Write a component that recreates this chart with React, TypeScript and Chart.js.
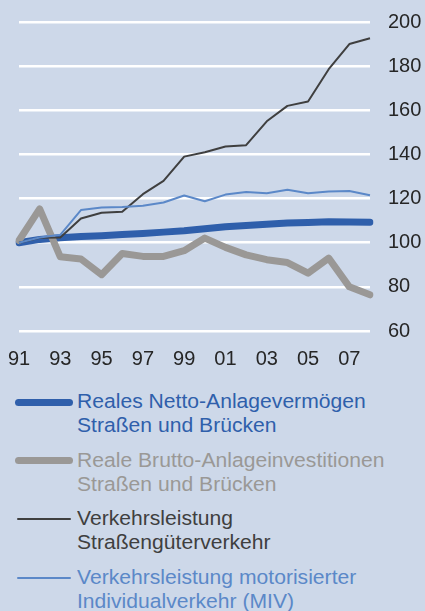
import React, { useEffect, useRef } from "react";
import { Chart, registerables } from "chart.js";

Chart.register(...registerables);

const years = ["91","92","93","94","95","96","97","98","99","00","01","02","03","04","05","06","07","08"];
const shownTicks = ["91","93","95","97","99","01","03","05","07"];

const nettoLabel = ["Reales Netto-Anlagevermögen", "Straßen und Brücken"];
const bruttoLabel = ["Reale Brutto-Anlageinvestitionen", "Straßen und Brücken"];
const gueterLabel = ["Verkehrsleistung", "Straßengüterverkehr"];
const mivLabel = ["Verkehrsleistung motorisierter", "Individualverkehr (MIV)"];

const netto = [100, 101.5, 102.3, 102.8, 103.2, 103.7, 104.2, 104.8, 105.4, 106.3, 107.2, 107.8, 108.4, 108.9, 109.2, 109.5, 109.4, 109.3];
const brutto = [101, 115.3, 93.6, 92.6, 85.5, 95.1, 93.8, 93.8, 96.4, 102.1, 97.9, 94.5, 92.3, 91, 86.2, 93, 80, 76.4];
const gueter = [100, 102.2, 102.4, 111, 113.6, 114, 122, 128, 139, 141, 143.6, 144.2, 155, 162, 164, 178.6, 190, 192.6];
const miv = [100, 102.4, 103.6, 114.8, 116, 116.2, 116.7, 118.2, 121.4, 118.8, 121.8, 123, 122.4, 124, 122.4, 123.2, 123.4, 121.5];

const yTicks = [60, 80, 100, 120, 140, 160, 180, 200];

const BG = "#cdd8e9";
const C_NETTO = "#2f5fab";
const C_BRUTTO = "#9a9896";
const C_GUETER = "#3f3f3f";
const C_MIV = "#5b88c8";
const FONT = "'Liberation Sans', Arial, sans-serif";

const legendItems = [
  { label: nettoLabel, color: C_NETTO, width: 7 },
  { label: bruttoLabel, color: C_BRUTTO, width: 7 },
  { label: gueterLabel, color: C_GUETER, width: 2 },
  { label: mivLabel, color: C_MIV, width: 2 },
];

export default function App() {
  const ref = useRef<HTMLCanvasElement | null>(null);

  useEffect(() => {
    document.body.style.margin = "0";
    document.body.style.background = BG;
    const ctx = ref.current;
    if (!ctx) return;
    const chart = new Chart(ctx, {
      type: "line",
      data: {
        labels: years,
        datasets: [
          { label: nettoLabel.join(" "), data: netto, borderColor: C_NETTO, borderWidth: 7, order: 3, borderCapStyle: "round", borderJoinStyle: "round" },
          { label: bruttoLabel.join(" "), data: brutto, borderColor: C_BRUTTO, borderWidth: 7, order: 2, borderCapStyle: "round", borderJoinStyle: "round" },
          { label: gueterLabel.join(" "), data: gueter, borderColor: C_GUETER, borderWidth: 2, order: 1, borderJoinStyle: "round" },
          { label: mivLabel.join(" "), data: miv, borderColor: C_MIV, borderWidth: 2, order: 0, borderJoinStyle: "round" },
        ],
      },
      options: {
        responsive: false,
        animation: false,
        layout: { padding: { left: 19, right: 4, top: 22, bottom: 0 } },
        elements: { point: { radius: 0 }, line: { tension: 0 } },
        plugins: { legend: { display: false }, tooltip: { enabled: false } },
        scales: {
          x: {
            offset: false,
            grid: { display: false, drawTicks: false },
            border: { display: false },
            afterFit: (axis: any) => { axis.height = 40; axis.paddingLeft = 0; axis.paddingRight = 0; },
            ticks: {
              autoSkip: false,
              maxRotation: 0,
              padding: 16,
              color: "#262626",
              font: { family: FONT, size: 20 },
              callback: (v: any, i: number) => (shownTicks.includes(years[i]) ? years[i] : ""),
            },
          },
          y: {
            position: "right",
            min: 60,
            max: 200,
            afterBuildTicks: (axis: any) => {
              axis.ticks = yTicks.map((v) => ({ value: v }));
            },
            afterFit: (axis: any) => { axis.width = 51; axis.paddingTop = 0; axis.paddingBottom = 0; },
            grid: { color: "#ffffff", lineWidth: 2.5, drawTicks: false },
            border: { display: false },
            ticks: {
              padding: 18,
              color: "#262626",
              font: { family: FONT, size: 20 },
            },
          },
        },
      },
    } as any);
    return () => chart.destroy();
  }, []);

  return (
    <div style={{ width: 425, height: 611, background: BG, position: "relative", overflow: "hidden", fontFamily: FONT }}>
      <canvas ref={ref} width={425} height={371} style={{ display: "block" }} />
      <div style={{ position: "absolute", left: 0, top: 390 }}>
        {legendItems.map((it, i) => (
          <div key={i} style={{ display: "flex", alignItems: "flex-start", height: 58.5 }}>
            <div style={{ width: 77, position: "relative", height: 24, flex: "none" }}>
              <div
                style={{
                  position: "absolute",
                  left: it.width > 3 ? 15 : 17,
                  width: it.width > 3 ? 58 : 54,
                  top: 12 - it.width / 2,
                  height: it.width,
                  borderRadius: it.width / 2,
                  background: it.color,
                }}
              />
            </div>
            <div style={{ color: it.color, fontSize: 19.3, lineHeight: "24px", whiteSpace: "nowrap", transform: "scaleX(1.095)", transformOrigin: "left center" }}>
              {it.label.map((l, j) => (
                <div key={j}>{l}</div>
              ))}
            </div>
          </div>
        ))}
      </div>
    </div>
  );
}
